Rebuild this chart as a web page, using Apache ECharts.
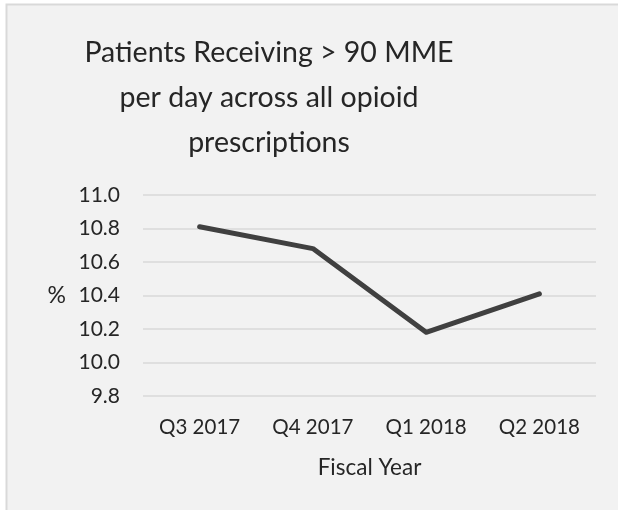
<!DOCTYPE html>
<html>
<head>
<meta charset="utf-8">
<script src="https://cdn.jsdelivr.net/npm/echarts@6/dist/echarts.min.js"></script>
<style>
  html, body { margin: 0; padding: 0; background: #ffffff; }
  #chart { width: 618px; height: 510px; }
</style>
</head>
<body>
<div id="chart"></div>
<script>
// Share of patients above 90 MME/day, by fiscal quarter
const quarters = ['Q3 2017', 'Q4 2017', 'Q1 2018', 'Q2 2018'];
const pctOver90MME = [10.81, 10.68, 10.18, 10.41];
const titleLines = ['Patients Receiving > 90 MME', 'per day across all opioid', 'prescriptions'];

const FONT = 'Lato, "Open Sans", sans-serif';
const TEXT = '#262626';

const chart = echarts.init(document.getElementById('chart'), null, { renderer: 'canvas' });

chart.setOption({
  backgroundColor: '#ffffff',
  animation: false,
  graphic: [{
    type: 'rect',
    z: -100,
    silent: true,
    shape: { x: 6.5, y: 4.5, width: 640, height: 540 },
    style: { fill: '#f2f2f2', stroke: '#d9d9d9', lineWidth: 2 }
  }],
  title: {
    text: titleLines.join('\n'),
    left: 264,
    top: 25,
    textAlign: 'center',
    textStyle: {
      fontFamily: FONT,
      fontSize: 28.5,
      fontWeight: 'normal',
      color: TEXT,
      lineHeight: 45
    }
  },
  grid: { left: 143, right: 22, top: 195, bottom: 114, containLabel: false },
  xAxis: {
    type: 'category',
    data: quarters,
    boundaryGap: true,
    axisLine: { show: false },
    axisTick: { show: false },
    axisLabel: { color: TEXT, fontFamily: FONT, fontSize: 20.5, margin: 21 },
    name: 'Fiscal Year',
    nameLocation: 'middle',
    nameGap: 60,
    nameTextStyle: { color: TEXT, fontFamily: FONT, fontSize: 22.5 }
  },
  yAxis: {
    type: 'value',
    min: 9.8,
    max: 11.0,
    interval: 0.2,
    axisLine: { show: false },
    axisTick: { show: false },
    axisLabel: {
      color: TEXT, fontFamily: FONT, fontSize: 21, margin: 23,
      formatter: v => v.toFixed(1)
    },
    splitLine: { lineStyle: { color: '#d9d9d9', width: 1.5 } },
    name: '%',
    nameLocation: 'middle',
    nameRotate: 0,
    nameGap: 77,
    nameTextStyle: { color: TEXT, fontFamily: FONT, fontSize: 23 }
  },
  series: [{
    type: 'line',
    data: pctOver90MME,
    symbol: 'none',
    lineStyle: { color: '#404040', width: 5, cap: 'round', join: 'round' }
  }]
});
</script>
</body>
</html>
